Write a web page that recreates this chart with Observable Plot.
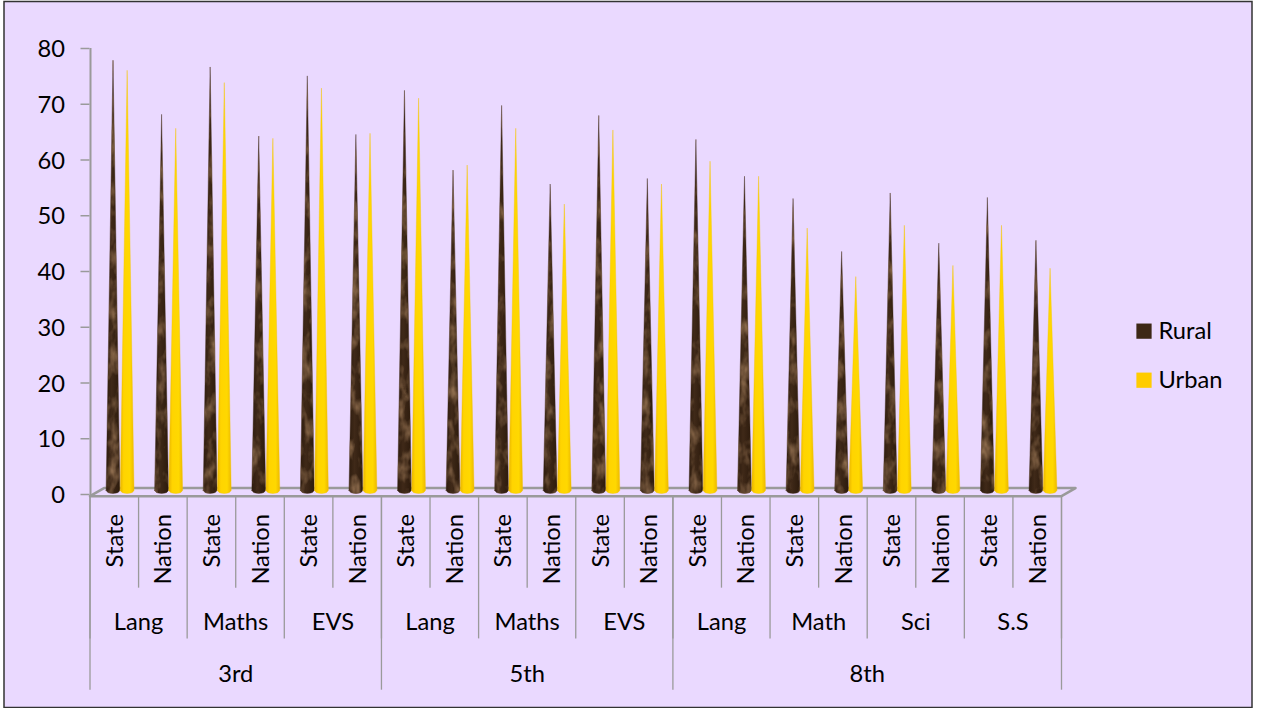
<!DOCTYPE html>
<html><head><meta charset="utf-8">
<script src="https://cdn.jsdelivr.net/npm/d3@7"></script>
<script src="https://cdn.jsdelivr.net/npm/@observablehq/plot@0.6"></script>
<style>html,body{margin:0;padding:0;background:#fff}svg{display:block}</style>
</head><body><div id="chart"></div>
<script>
const grades = ["3rd","5th","8th"];
const subjects = ["Lang","Maths","EVS","Lang","Maths","EVS","Lang","Math","Sci","S.S"];
const subjectGrade = [0,0,0,1,1,1,2,2,2,2];
const levels = ["State","Nation"];
const rural = [77.8,68.1,76.6,64.2,75,64.5,72.4,58.1,69.7,55.6,67.9,56.6,63.6,57,53,43.5,54,45,53.2,45.5];
const urban = [76,65.6,73.8,63.8,72.8,64.7,71,59,65.6,52,65.3,55.6,59.7,57,47.7,39,48.2,41,48.2,40.5];
const yTicks = [0,10,20,30,40,50,60,70,80];
const seriesNames = ["Rural","Urban"];

const FONT = "Lato, Carlito, sans-serif";
const FS = 23.7;
const pxX = 48.575, pxY = 5.57;
const n = rural.length;
const ruralOff = 0.484, urbanOff = 0.775, halfBase = 0.142;
const floorFront = -0.3, floorBack = 1.15, floorDX = 14/pxX;
const rimY = 0.65, rimDepth = 0.55;
const rimSteps = [-1,-0.75,-0.5,-0.25,0,0.25,0.5,0.75,1];

function cone(vals, off, name){
  return vals.flatMap((v,i)=>rimSteps.map(t=>({
    k:name+i,
    x:i+off+t*halfBase,
    low:rimY-rimDepth*Math.sqrt(1-t*t),
    high:rimY+(v-rimY)*(1-Math.abs(t))
  })));
}

const cats = rural.map((_,i)=>({i,label:levels[i%2]}));
const subj = subjects.map((s,i)=>({i,label:s}));
const grd = grades.map((g,i)=>{
  const idx = subjectGrade.flatMap((d,j)=>d===i?[j]:[]);
  return {label:g,x:(idx[0]*2+(idx[idx.length-1]*2+2))/2};
});
const subjBounds = d3.range(0,n+1,2);
const gradeBounds = [0,6,12,20];
const catBounds = d3.range(1,n,2);

function defs(){
  const s = d3.create("svg:g");
  const d = s.append("defs");
  const g1 = d.append("linearGradient").attr("id","urbanGrad").attr("x1",0).attr("x2",1).attr("y1",0).attr("y2",0);
  [[0,"#e9b400"],[0.25,"#ffd400"],[0.7,"#ffd800"],[1,"#ecb900"]].forEach(([o,c])=>g1.append("stop").attr("offset",o).attr("stop-color",c));
  const g2 = d.append("linearGradient").attr("id","ruralGrad").attr("x1",0).attr("x2",1).attr("y1",0).attr("y2",0);
  [[0,"#2e1c0e"],[0.4,"#3f2918"],[1,"#2c1a0c"]].forEach(([o,c])=>g2.append("stop").attr("offset",o).attr("stop-color",c));
  const f = d.append("filter").attr("id","mottle").attr("filterUnits","userSpaceOnUse").attr("x",0).attr("y",0).attr("width",1267).attr("height",708).attr("color-interpolation-filters","sRGB");
  f.append("feTurbulence").attr("type","fractalNoise").attr("baseFrequency","0.1 0.05").attr("numOctaves",3).attr("seed",4).attr("result","t");
  f.append("feColorMatrix").attr("in","t").attr("type","matrix")
   .attr("values","0 0 0 0 0.55  0 0 0 0 0.42  0 0 0 0 0.30  2.2 0 0 0 -0.95").attr("result","c");
  f.append("feComposite").attr("in","c").attr("in2","SourceAlpha").attr("operator","in").attr("result","m");
  const mg = f.append("feMerge");
  mg.append("feMergeNode").attr("in","SourceGraphic");
  mg.append("feMergeNode").attr("in","m");
  return s.node();
}
function withFilter(index, scales, values, dims, ctx, next){
  const g = next(index, scales, values, dims, ctx);
  g.setAttribute("filter","url(#mottle)");
  return g;
}

const chart = Plot.plot({
  width:1267,height:708,margin:0,
  style:{background:"transparent",fontFamily:FONT},
  x:{type:"linear",domain:[0,n],range:[89.5,1061],axis:null},
  y:{type:"linear",domain:[0,80],range:[494,48],axis:null},
  marks:[
    Plot.frame({fill:"#EAD9FF",stroke:"#333",strokeWidth:1.5,insetLeft:3.5,insetTop:1,insetRight:15.5,insetBottom:1}),
    defs,
    Plot.ruleX([0],{y1:floorFront,y2:80,stroke:"#9a9a9a",strokeWidth:2,dx:0.5}),
    Plot.ruleY(yTicks,{x1:-9/pxX,x2:0,stroke:"#9a9a9a",strokeWidth:1.5}),
    Plot.text(yTicks,{x:0,y:d=>d,text:d=>String(d),textAnchor:"end",dx:-25,dy:1,fontSize:FS,fill:"#000",fontFamily:FONT}),
    Plot.line([{x:0,y:floorFront},{x:floorDX,y:floorBack},{x:n+floorDX,y:floorBack},{x:n,y:floorFront},{x:0,y:floorFront}],
      {x:"x",y:"y",stroke:"#9a9a9a",strokeWidth:2.5}),
    Plot.ruleX(catBounds,{y1:floorFront,y2:-16.8,stroke:"#9a9a9a",strokeWidth:1.3}),
    Plot.ruleX(subjBounds,{y1:floorFront,y2:-25.9,stroke:"#9a9a9a",strokeWidth:1.3}),
    Plot.ruleX(gradeBounds,{y1:floorFront,y2:-35.1,stroke:"#9a9a9a",strokeWidth:1.3}),
    Plot.areaY(cone(rural,ruralOff,"r"),{x:"x",y1:"low",y2:"high",z:"k",fill:"url(#ruralGrad)",stroke:"#3d2816",strokeWidth:0.4,render:withFilter}),
    Plot.areaY(cone(urban,urbanOff,"u"),{x:"x",y1:"low",y2:"high",z:"k",fill:"url(#urbanGrad)",stroke:"#f2c500",strokeWidth:0.4}),
    Plot.text(cats,{x:d=>d.i+0.5,y:-3.5,text:"label",rotate:-90,textAnchor:"end",dx:1,fontSize:FS,fill:"#000",fontFamily:FONT}),
    Plot.text(subj,{x:d=>d.i*2+1,y:-22.9,text:"label",fontSize:FS,fill:"#000",fontFamily:FONT}),
    Plot.text(grd,{x:"x",y:-32.2,text:"label",fontSize:FS,fill:"#000",fontFamily:FONT}),
    Plot.dot(seriesNames,{x:(1143.5-89.5)/pxX,y:d=>d==="Rural"?29.3:20.5,symbol:"square",r:8.6,fill:d=>d==="Rural"?"#3d2816":"#ffcc00"}),
    Plot.text(seriesNames,{x:(1158-89.5)/pxX,y:d=>d==="Rural"?29.3:20.5,text:d=>d,textAnchor:"start",fontSize:FS,fill:"#000",fontFamily:FONT})
  ]
});
document.getElementById("chart").append(chart);
</script></body></html>
